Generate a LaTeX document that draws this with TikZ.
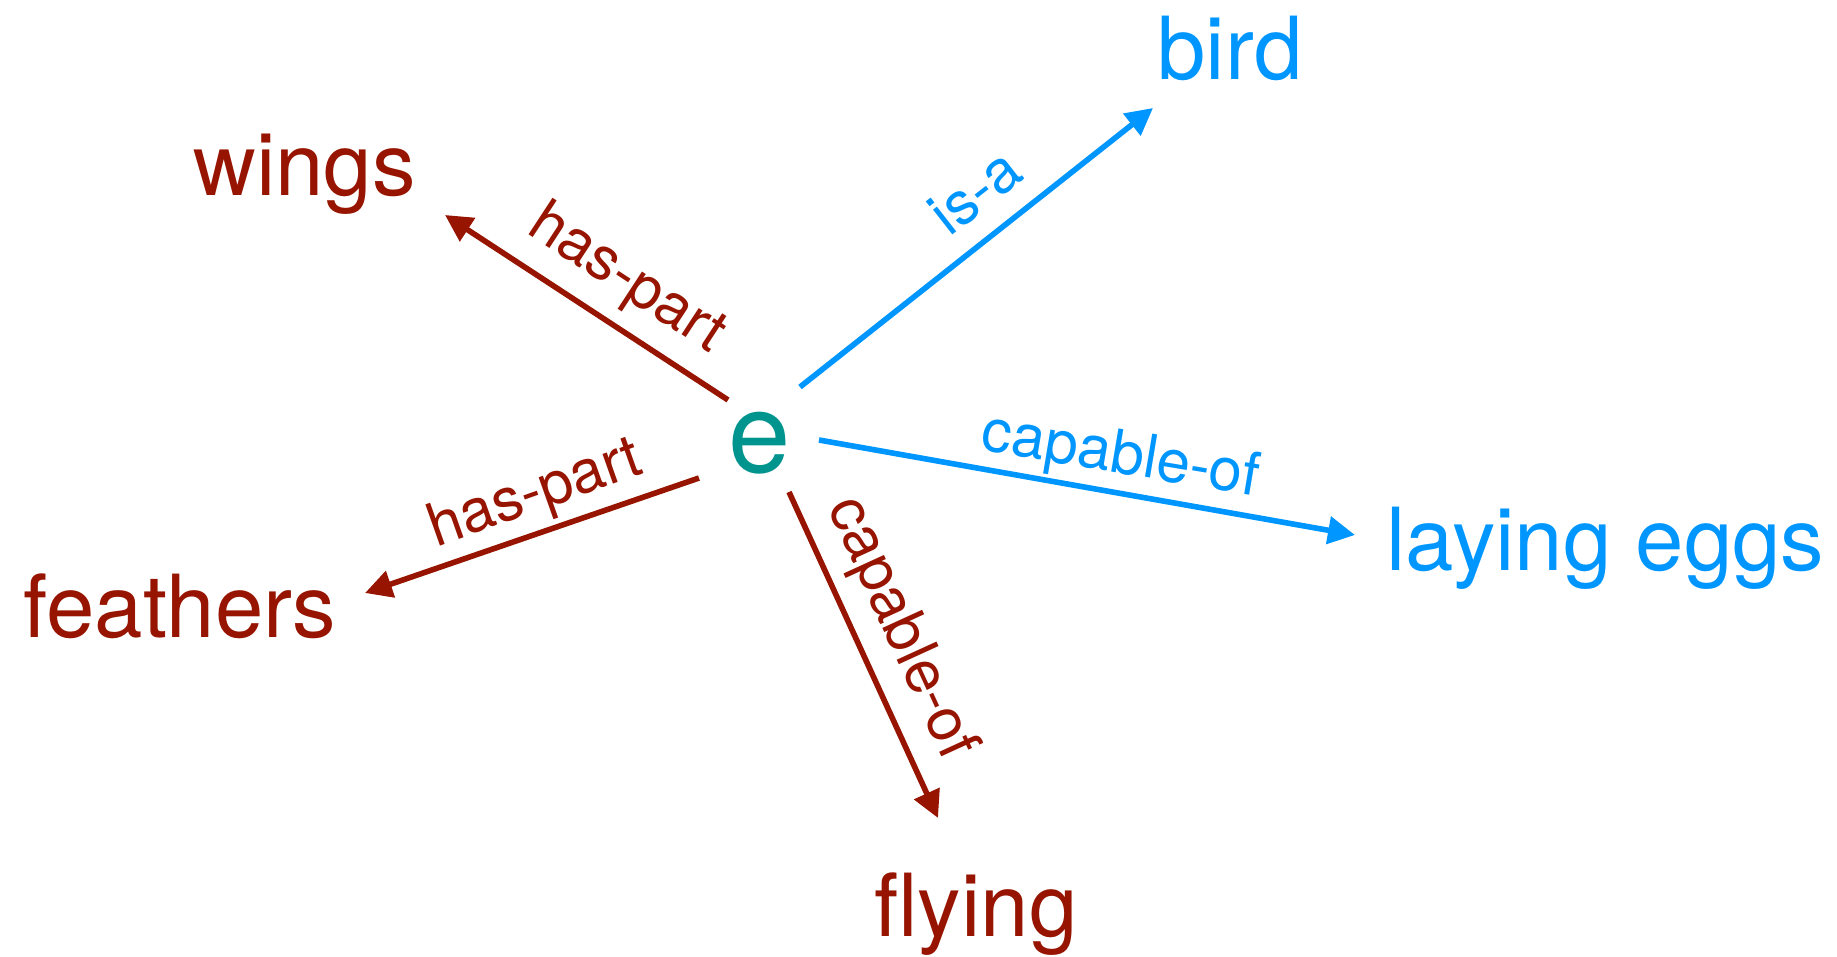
\documentclass[tikz,border=0pt]{standalone}
\usepackage{fontspec}
\setmainfont{TeX Gyre Heros}
\usetikzlibrary{arrows.meta}
\definecolor{relred}{HTML}{961400}
\definecolor{relblue}{HTML}{0096FF}
\definecolor{entteal}{HTML}{00948F}
\begin{document}
\begin{tikzpicture}[x=0.5pt,y=-0.5pt,
  concept/.style={inner sep=0pt, anchor=base west, font=\fontsize{43.5}{50}\selectfont},
  rellabel/.style={inner sep=0pt, anchor=base, font=\fontsize{30}{36}\selectfont},
  edgearrow/.style={line width=2.8pt, -{Triangle[length=13.5pt,width=13.5pt]}},
]
\useasboundingbox (0,0) rectangle (1837,957);

% entity
\node[inner sep=0pt, anchor=base, text=entteal, font=\fontsize{56}{60}\selectfont] (e) at (760,472) {e};

% concepts
\node[concept, text=relblue] (bird) at (1157,80) {bird};
\node[concept, text=relred] (wings) at (193,196) {wings};
\node[concept, text=relred] (feathers) at (23,637) {feathers};
\node[concept, text=relblue] (eggs) at (1386,570) {laying eggs};
\node[concept, text=relred] (flying) at (874,936) {flying};

% connector end points
\coordinate (s-bird) at (800,387);
\coordinate (t-bird) at (1153,108);
\coordinate (s-wings) at (728,400);
\coordinate (t-wings) at (445,215);
\coordinate (s-feathers) at (699,478);
\coordinate (t-feathers) at (365,593);
\coordinate (s-eggs) at (819,440);
\coordinate (t-eggs) at (1355,535);
\coordinate (s-flying) at (789,492);
\coordinate (t-flying) at (938,818);

% connectors
\draw[edgearrow, relblue] (s-bird) -- (t-bird);
\draw[edgearrow, relred] (s-wings) -- (t-wings);
\draw[edgearrow, relred] (s-feathers) -- (t-feathers);
\draw[edgearrow, relblue] (s-eggs) -- (t-eggs);
\draw[edgearrow, relred] (s-flying) -- (t-flying);

% relation labels
\node[rellabel, text=relblue, rotate=38] (l-isa) at (988,208) {is-a};
\node[rellabel, text=relred, rotate=-33.2] (l-wings) at (618,293) {has-part};
\node[rellabel, text=relred, rotate=19.5] (l-feathers) at (541,510) {has-part};
\node[rellabel, text=relblue, rotate=-9.5] (l-eggs) at (1118,473) {capable-of};
\node[rellabel, text=relred, rotate=-65.4] (l-flying) at (886,635) {capable-of};
\end{tikzpicture}
\end{document}
